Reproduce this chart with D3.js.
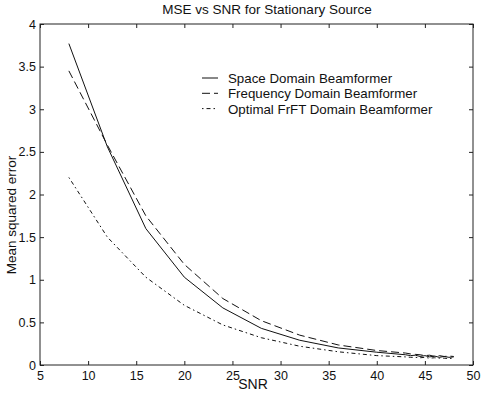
<!DOCTYPE html>
<html>
<head>
<meta charset="utf-8">
<script src="https://cdn.jsdelivr.net/npm/d3@7"></script>
<style>
  body { margin:0; background:#fff; }
  svg { display:block; font-family:"Liberation Sans", Arial, sans-serif; }
</style>
</head>
<body>
<div class="chart"></div>
<script>
// SNR sample points (dB)
const snr = [8, 12, 16, 20, 24, 28, 32, 36, 40, 42, 43, 43.5, 44, 44.5, 45, 45.5, 46, 46.5, 47, 47.5, 48];

const spaceMse = [3.77, 2.56, 1.60, 1.03, 0.67, 0.43, 0.29, 0.20, 0.15, 0.13, 0.12, 0.11, 0.115, 0.10, 0.11, 0.095, 0.105, 0.09, 0.10, 0.09, 0.095];
const freqMse  = [3.45, 2.58, 1.75, 1.18, 0.78, 0.52, 0.35, 0.235, 0.17, 0.15, 0.14, 0.13, 0.125, 0.12, 0.11, 0.115, 0.10, 0.11, 0.10, 0.105, 0.10];
const frftMse  = [2.20, 1.50, 1.03, 0.70, 0.47, 0.32, 0.22, 0.155, 0.11, 0.10, 0.095, 0.09, 0.09, 0.085, 0.09, 0.08, 0.085, 0.08, 0.08, 0.075, 0.08];

const xTicks = [5, 10, 15, 20, 25, 30, 35, 40, 45, 50];
const yTicks = [0, 0.5, 1, 1.5, 2, 2.5, 3, 3.5, 4];

const seriesNames = ["Space Domain Beamformer", "Frequency Domain Beamformer", "Optimal FrFT Domain Beamformer"];
const seriesDash = [null, "8 4", "1.5 3 4 3"];

const width = 481, height = 394;
const margin = { top:24, left:40, right:8, bottom:29 };
const iW = width - margin.left - margin.right;
const iH = height - margin.top - margin.bottom;

const svg = d3.select(".chart").append("svg")
    .attr("width", width)
    .attr("height", height);

const xScale = d3.scaleLinear().domain([5, 50]).range([0, iW]);
const yScale = d3.scaleLinear().domain([0, 4]).range([iH, 0]);

const graph = svg.append("g")
    .attr("transform", `translate(${margin.left},${margin.top})`);

// axes, matlab style: ticks pointing inward on all sides
const tickLen = 4;
graph.append("g")
    .attr("transform", `translate(0,${iH})`)
    .call(d3.axisBottom(xScale).tickValues(xTicks).tickSize(-tickLen).tickSizeOuter(0).tickPadding(6).tickFormat(d3.format("d")));
graph.append("g")
    .call(d3.axisTop(xScale).tickValues(xTicks).tickSize(-tickLen).tickSizeOuter(0).tickFormat(""));
graph.append("g")
    .call(d3.axisLeft(yScale).tickValues(yTicks).tickSize(-tickLen).tickSizeOuter(0).tickPadding(4).tickFormat(d => d));
graph.append("g")
    .attr("transform", `translate(${iW},0)`)
    .call(d3.axisRight(yScale).tickValues(yTicks).tickSize(-tickLen).tickSizeOuter(0).tickFormat(""));

graph.selectAll(".domain").remove();
graph.selectAll(".tick line").attr("stroke", "#222");
graph.selectAll(".tick text").attr("fill", "#111").attr("font-size", 12.5);

graph.append("rect")
    .attr("width", iW).attr("height", iH)
    .attr("fill", "none").attr("stroke", "#222").attr("stroke-width", 1);

const line = d3.line()
    .x((d, i) => xScale(snr[i]))
    .y(d => yScale(d));

[spaceMse, freqMse, frftMse].forEach((s, i) => {
    graph.append("path")
        .attr("d", line(s))
        .attr("fill", "none")
        .attr("stroke", "#111")
        .attr("stroke-width", 1)
        .attr("stroke-dasharray", seriesDash[i]);
});

// legend
const legend = graph.append("g").attr("transform", "translate(162,54)");
seriesNames.forEach((name, i) => {
    const row = legend.append("g").attr("transform", `translate(0,${i * 15.3})`);
    row.append("line")
        .attr("x1", 0).attr("x2", 16)
        .attr("stroke", "#111")
        .attr("stroke-dasharray", seriesDash[i]);
    row.append("text")
        .attr("x", 26).attr("y", 5)
        .attr("font-size", 13.3)
        .attr("fill", "#111")
        .text(name);
});

// titles
svg.append("text")
    .attr("x", 267).attr("y", 14)
    .attr("text-anchor", "middle")
    .attr("font-size", 13.5)
    .attr("fill", "#111")
    .text("MSE vs SNR for Stationary Source");

svg.append("text")
    .attr("x", 253).attr("y", 389)
    .attr("text-anchor", "middle")
    .attr("font-size", 14)
    .attr("fill", "#111")
    .text("SNR");

svg.append("text")
    .attr("transform", "translate(16,215) rotate(-90)")
    .attr("text-anchor", "middle")
    .attr("font-size", 13.5)
    .attr("fill", "#111")
    .text("Mean squared error");
</script>
</body>
</html>
